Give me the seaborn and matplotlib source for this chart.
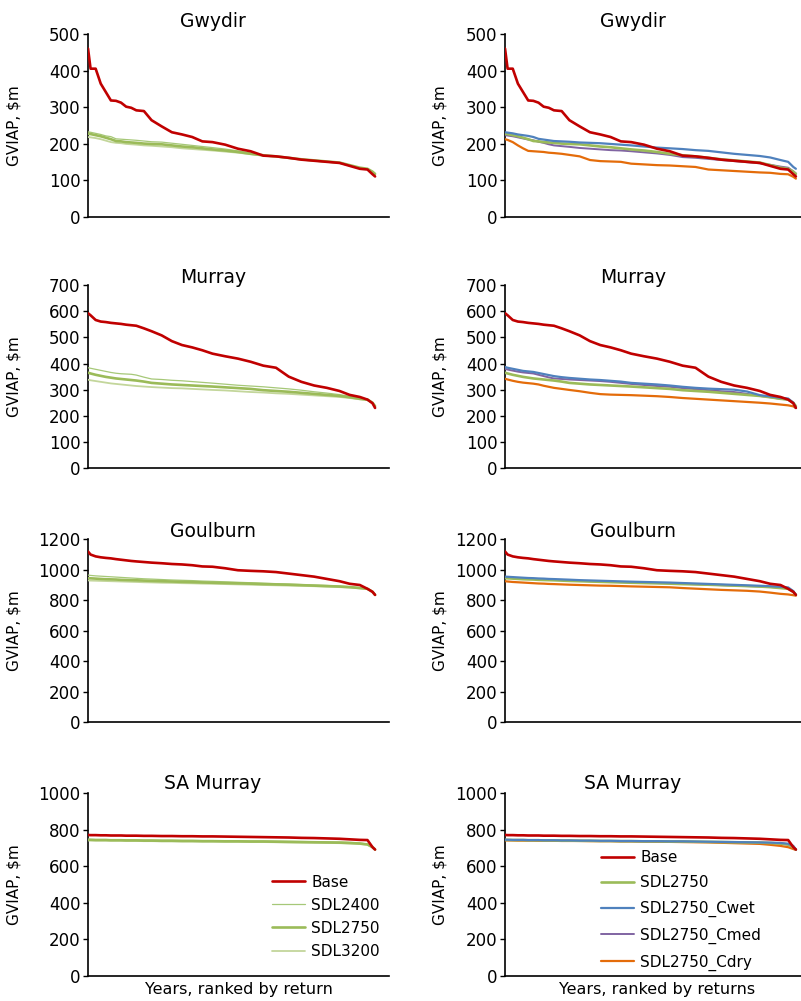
import matplotlib
matplotlib.use("Agg")
from matplotlib import pyplot as plt
import seaborn as sns

# ranks of the sampled years (114 years, ranked by return)
ranks = [1, 2, 4, 6, 8, 10, 12, 14, 16, 18, 20, 23, 26, 30, 34, 38, 42, 46, 50,
         55, 60, 65, 70, 75, 80, 85, 90, 95, 100, 104, 108, 111, 113, 114]

# GVIAP, $m - Gwydir
gwydir_base = [461, 406, 406, 365, 342, 319, 318, 313, 302, 299, 292, 290, 265, 248, 232, 226, 219,
               207, 205, 198, 187, 180, 168, 166, 162, 157, 154, 151, 148, 140, 132, 130, 117, 111]
gwydir_2400 = [233, 232, 229, 226, 222, 220, 214, 213, 212, 211, 210, 208, 206, 205, 202, 199, 196,
               193, 190, 186, 181, 175, 169, 166, 162, 158, 155, 152, 149, 142, 135, 132, 124, 118]
gwydir_2750 = [228, 227, 224, 221, 217, 213, 208, 207, 205, 204, 203, 201, 200, 199, 196, 193, 191,
               188, 185, 182, 178, 173, 169, 166, 162, 158, 155, 152, 149, 142, 135, 132, 124, 118]
gwydir_3200 = [219, 218, 216, 213, 209, 205, 203, 202, 200, 199, 198, 196, 195, 193, 191, 188, 186,
               184, 182, 179, 176, 172, 168, 165, 161, 157, 154, 151, 148, 141, 134, 131, 123, 117]
gwydir_cwet = [232, 231, 229, 226, 224, 222, 219, 214, 212, 210, 208, 207, 206, 204, 203, 202, 200,
               198, 196, 193, 190, 188, 186, 183, 181, 177, 173, 170, 167, 163, 156, 151, 137, 132]
gwydir_cmed = [224, 223, 221, 218, 215, 212, 210, 206, 203, 199, 196, 194, 192, 189, 187, 185, 183,
               182, 180, 177, 174, 170, 164, 162, 159, 156, 153, 150, 147, 143, 138, 135, 125, 119]
gwydir_cdry = [213, 211, 205, 196, 188, 181, 180, 179, 178, 176, 175, 173, 170, 166, 156, 153, 152,
               151, 146, 144, 142, 141, 139, 137, 130, 128, 126, 124, 122, 121, 118, 117, 110, 105]

# Murray
murray_base = [593, 585, 567, 561, 559, 556, 554, 552, 549, 547, 545, 535, 524, 508, 486, 471, 462,
               451, 438, 428, 419, 407, 392, 384, 350, 330, 316, 307, 295, 280, 272, 262, 248, 230]
murray_2400 = [384, 382, 378, 374, 370, 366, 363, 361, 360, 359, 356, 348, 341, 339, 336, 334, 331,
               328, 325, 321, 317, 314, 311, 307, 303, 298, 292, 287, 281, 275, 268, 264, 250, 237]
murray_2750 = [365, 362, 357, 353, 349, 346, 343, 341, 339, 337, 335, 331, 326, 323, 320, 318, 316,
               314, 312, 309, 306, 303, 298, 295, 292, 288, 284, 280, 276, 271, 265, 262, 250, 237]
murray_3200 = [338, 336, 333, 330, 327, 324, 322, 320, 318, 316, 314, 312, 310, 308, 306, 305, 303,
               301, 299, 297, 294, 291, 289, 286, 284, 281, 278, 275, 272, 268, 263, 260, 248, 237]
murray_cwet = [387, 384, 380, 376, 372, 370, 368, 364, 360, 356, 352, 348, 345, 342, 339, 337, 334,
               331, 326, 323, 320, 316, 311, 307, 304, 302, 300, 293, 279, 274, 269, 266, 250, 230]
murray_cmed = [380, 377, 373, 369, 366, 364, 362, 357, 352, 347, 343, 341, 339, 337, 335, 333, 330,
               326, 322, 318, 314, 311, 306, 302, 298, 294, 291, 284, 276, 271, 265, 262, 248, 230]
murray_cdry = [342, 339, 334, 330, 327, 325, 323, 320, 315, 311, 307, 303, 299, 294, 288, 283, 281,
               280, 279, 277, 275, 272, 268, 265, 262, 259, 256, 253, 250, 247, 243, 240, 236, 230]

# Goulburn
goulburn_base = [1120, 1100, 1088, 1082, 1078, 1075, 1070, 1066, 1062, 1058, 1055, 1051, 1047, 1043,
                 1038, 1035, 1030, 1022, 1020, 1010, 997, 993, 990, 985, 975, 965, 955, 940, 925,
                 908, 900, 875, 855, 835]
goulburn_2400 = [965, 963, 960, 958, 956, 954, 952, 950, 948, 946, 944, 941, 939, 936, 933, 931, 929,
                 926, 924, 921, 918, 915, 912, 909, 906, 903, 900, 897, 893, 889, 883, 877, 860, 840]
goulburn_2750 = [945, 944, 942, 940, 938, 937, 936, 934, 933, 932, 931, 929, 927, 925, 923, 921, 919,
                 917, 915, 913, 911, 909, 906, 904, 902, 899, 896, 893, 890, 886, 880, 875, 855, 835]
goulburn_3200 = [930, 929, 928, 927, 926, 925, 924, 923, 922, 921, 920, 918, 917, 915, 914, 912, 911,
                 909, 908, 906, 904, 902, 900, 898, 896, 894, 892, 889, 886, 883, 878, 873, 855, 835]
goulburn_cwet = [955, 954, 952, 950, 948, 946, 945, 943, 942, 940, 939, 937, 935, 932, 930, 928, 926,
                 924, 922, 920, 918, 916, 913, 910, 907, 904, 901, 898, 895, 892, 888, 884, 860, 835]
goulburn_cmed = [950, 949, 947, 945, 943, 941, 940, 938, 937, 935, 934, 932, 930, 927, 925, 923, 921,
                 919, 917, 915, 913, 911, 908, 905, 902, 899, 896, 893, 890, 887, 883, 879, 858, 835]
goulburn_cdry = [925, 923, 920, 918, 916, 914, 912, 910, 909, 907, 906, 904, 902, 900, 898, 896, 895,
                 893, 891, 889, 887, 885, 880, 876, 872, 868, 865, 862, 857, 850, 842, 838, 833, 830]

# SA Murray
samurray_base = [772, 771, 771, 770, 770, 769, 769, 769, 768, 768, 768, 767, 767, 766, 766, 765, 765,
                 764, 764, 763, 762, 761, 760, 759, 758, 756, 755, 753, 751, 748, 745, 744, 705, 692]
samurray_2400 = [748, 748, 747, 747, 747, 746, 746, 746, 745, 745, 745, 744, 744, 743, 743, 742, 742,
                 741, 741, 740, 740, 739, 739, 738, 737, 736, 735, 734, 733, 731, 728, 722, 705, 692]
samurray_2750 = [745, 745, 744, 744, 744, 743, 743, 743, 742, 742, 742, 741, 741, 740, 740, 739, 739,
                 738, 738, 737, 737, 736, 736, 735, 734, 733, 732, 731, 730, 728, 725, 720, 705, 692]
samurray_3200 = [742, 742, 741, 741, 741, 740, 740, 740, 739, 739, 739, 738, 738, 737, 737, 736, 736,
                 735, 735, 734, 734, 733, 733, 732, 731, 730, 729, 728, 727, 725, 722, 718, 703, 692]
samurray_cwet = [746, 746, 745, 745, 745, 744, 744, 744, 743, 743, 743, 742, 742, 741, 741, 740, 740,
                 739, 739, 738, 738, 737, 737, 736, 735, 734, 733, 732, 731, 730, 728, 724, 712, 692]
samurray_cmed = [744, 744, 743, 743, 743, 742, 742, 742, 741, 741, 741, 740, 740, 739, 739, 738, 738,
                 737, 737, 736, 736, 735, 735, 734, 733, 732, 731, 730, 729, 727, 724, 719, 705, 692]
samurray_cdry = [742, 742, 742, 741, 741, 741, 741, 740, 740, 740, 740, 739, 739, 739, 738, 738, 738,
                 737, 737, 736, 735, 734, 733, 732, 731, 729, 727, 725, 723, 718, 712, 705, 695, 690]

basins = ["Gwydir", "Murray", "Goulburn", "SA Murray"]
ymax = [500, 700, 1200, 1000]
ystep = [100, 100, 200, 200]

left_series = [
    [("SDL2400", gwydir_2400), ("SDL2750", gwydir_2750), ("SDL3200", gwydir_3200)],
    [("SDL2400", murray_2400), ("SDL2750", murray_2750), ("SDL3200", murray_3200)],
    [("SDL2400", goulburn_2400), ("SDL2750", goulburn_2750), ("SDL3200", goulburn_3200)],
    [("SDL2400", samurray_2400), ("SDL2750", samurray_2750), ("SDL3200", samurray_3200)],
]
right_series = [
    [("SDL2750", gwydir_2750), ("SDL2750_Cwet", gwydir_cwet), ("SDL2750_Cmed", gwydir_cmed), ("SDL2750_Cdry", gwydir_cdry)],
    [("SDL2750", murray_2750), ("SDL2750_Cwet", murray_cwet), ("SDL2750_Cmed", murray_cmed), ("SDL2750_Cdry", murray_cdry)],
    [("SDL2750", goulburn_2750), ("SDL2750_Cwet", goulburn_cwet), ("SDL2750_Cmed", goulburn_cmed), ("SDL2750_Cdry", goulburn_cdry)],
    [("SDL2750", samurray_2750), ("SDL2750_Cwet", samurray_cwet), ("SDL2750_Cmed", samurray_cmed), ("SDL2750_Cdry", samurray_cdry)],
]
bases = [gwydir_base, murray_base, goulburn_base, samurray_base]

# line styles (colour, width, zorder)
styles = {
    "Base": ("#C00000", 1.9, 5),
    "SDL2400": ("#A6C878", 0.9, 3),
    "SDL2750": ("#9BBB59", 1.9, 4),
    "SDL3200": ("#C3D69B", 1.3, 3),
    "SDL2750_Cwet": ("#4F81BD", 1.6, 4),
    "SDL2750_Cmed": ("#8064A2", 1.4, 3),
    "SDL2750_Cdry": ("#E46C0A", 1.6, 3),
}

sns.set_style("white")
plt.rcParams["font.family"] = ["DejaVu Sans"]
plt.rcParams["text.color"] = "black"
plt.rcParams["axes.labelcolor"] = "black"
plt.rcParams["ytick.color"] = "black"

fig = plt.figure(figsize=(8.01, 10.01), dpi=100)

row_bottom = [0.7832, 0.5325, 0.2787, 0.0250]
row_height = 0.1825
title_y = [0.979, 0.723, 0.4695, 0.2170]


def draw(ax, base, series, i, right):
    for name, vals in series:
        c, lw, z = styles[name]
        sns.lineplot(x=ranks, y=vals, ax=ax, color=c, linewidth=lw, zorder=z,
                     label=name if i == 3 else None)
    c, lw, z = styles["Base"]
    sns.lineplot(x=ranks, y=base, ax=ax, color=c, linewidth=lw, zorder=z,
                 label="Base" if i == 3 else None)
    ax.set_xlim(1, 119.5)
    ax.set_ylim(0, ymax[i])
    ax.set_yticks(range(0, ymax[i] + 1, ystep[i]))
    ax.set_xticks([])
    ax.tick_params(axis="y", direction="out", length=3.5, width=1, pad=2, labelsize=12,
                   left=True, colors="black")
    for s in ["top", "right"]:
        ax.spines[s].set_visible(False)
    for s in ["left", "bottom"]:
        ax.spines[s].set_color("black")
        ax.spines[s].set_linewidth(1.2)
    ax.set_ylabel("GVIAP, $m", fontsize=11)
    ax.yaxis.set_label_coords(-0.19 if right else -0.2226, 0.5)
    if i == 3:
        h, l = ax.get_legend_handles_labels()
        order = [l.index("Base")] + [k for k in range(len(l)) if l[k] != "Base"]
        if right:
            ax.legend([h[k] for k in order], [l[k] for k in order], loc="upper left",
                      bbox_to_anchor=(0.313, 0.69), frameon=False, fontsize=11,
                      handlelength=2.2, handletextpad=0.4, labelspacing=0.69,
                      borderpad=0, borderaxespad=0)
        else:
            ax.legend([h[k] for k in order], [l[k] for k in order], loc="upper left",
                      bbox_to_anchor=(0.61, 0.555), frameon=False, fontsize=11,
                      handlelength=2.2, handletextpad=0.4, labelspacing=0.53,
                      borderpad=0, borderaxespad=0)
        ax.set_xlabel("Years, ranked by returns" if right else "Years, ranked by return",
                      fontsize=11.5, labelpad=4)
    else:
        leg = ax.get_legend()
        if leg is not None:
            leg.remove()


for i, basin in enumerate(basins):
    axl = fig.add_axes([0.1099, row_bottom[i], 0.3758, row_height])
    draw(axl, bases[i], left_series[i], i, False)
    axr = fig.add_axes([0.6305, row_bottom[i], 0.3808, row_height])
    draw(axr, bases[i], right_series[i], i, True)
    fig.text(0.266, title_y[i], basin, ha="center", va="center", fontsize=13.5)
    fig.text(0.790, title_y[i], basin, ha="center", va="center", fontsize=13.5)

fig.savefig("out.png", dpi=100)
